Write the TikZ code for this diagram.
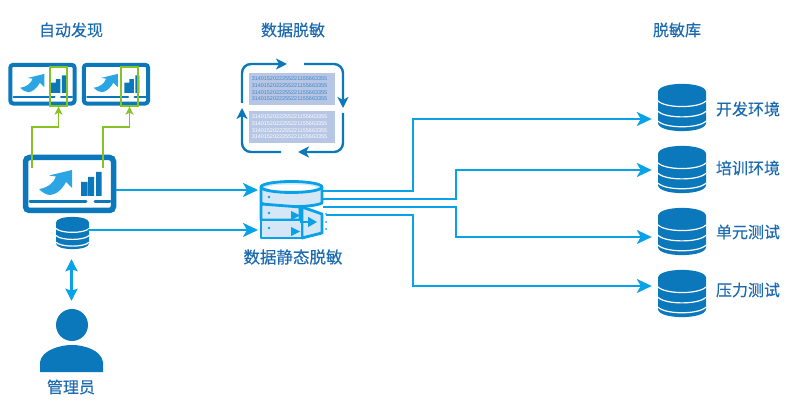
\documentclass[tikz,border=0pt]{standalone}
\usepackage{fontspec}
\setmainfont[FakeBold=0.2]{Noto Sans CJK SC}
\newfontfamily\digitfont{Liberation Sans}
\usetikzlibrary{arrows.meta}
\definecolor{dkblue}{HTML}{0B78BC}
\definecolor{brblue}{HTML}{08A2E8}
\definecolor{swoosh}{HTML}{2BA6E2}
\definecolor{ltblue}{HTML}{D5E7F6}
\definecolor{green1}{HTML}{86C226}
\definecolor{txtblue}{HTML}{1C6BB0}
\definecolor{panelbg}{HTML}{B7C6E4}
\definecolor{digitblue}{HTML}{3F86C8}
\tikzset{
  x=1pt,y=-1pt,
  title/.style={font=\fontsize{16}{18}\selectfont,text=txtblue,inner sep=0pt},
  flow/.style={draw=brblue,line width=2.2pt,-{Stealth[length=15pt,width=14pt,inset=4pt]}},
  greenline/.style={draw=green1,line width=1.6pt,-{Stealth[length=8pt,width=8pt,inset=2pt]}},
  cyc/.style={draw=dkblue,line width=2.4pt,rounded corners=9pt,-{Stealth[length=11pt,width=11pt,inset=3pt]}},
  digits/.style={font=\digitfont\fontsize{5.45}{6}\selectfont,inner sep=0pt},
  hotspot/.style={inner sep=0pt,minimum size=0pt},
}
% x, y, scale
\newcommand{\monitoricon}[3]{%
  \begin{scope}[shift={(#1,#2)},scale=#3]
    \draw[dkblue,fill=white,line width=#3*5.5pt,rounded corners=#3*4pt] (2.5,2.5) rectangle (90.5,55.5);
    \draw[dkblue,line width=#3*3pt,line cap=round] (7,47) -- (63,47) (72,47) -- (87,47);
    \fill[dkblue] (58,27) rectangle (64.5,41) (65,22) rectangle (71,41) (73,17) rectangle (78.5,41);
    \fill[swoosh] (16,34) .. controls (24,33) and (31,28) .. (33,21.5) -- (26,20.5) -- (49,15) -- (49,33)
      -- (43,27) .. controls (39,35) and (32,40) .. (27,40) .. controls (23,40) and (19,37) .. (16,34) -- cycle;
  \end{scope}}
% x-left, y-top, width, height: solid stacked database
\newcommand{\dbicon}[4]{%
  \begin{scope}[shift={(#1,#2)},x=#3*1pt,y=-#4*1pt]
    \fill[dkblue] (0,.17) -- (0,.83) .. controls (0,1.06) and (1,1.06) .. (1,.83) -- (1,.17)
      .. controls (1,-.06) and (0,-.06) .. (0,.17) -- cycle;
    \draw[white,line width=1.2pt] (0,.36) .. controls (.15,.52) and (.85,.52) .. (1,.36);
    \draw[white,line width=1.2pt] (0,.58) .. controls (.15,.74) and (.85,.74) .. (1,.58);
    \draw[white,line width=1.2pt] (0,.79) .. controls (.15,.95) and (.85,.95) .. (1,.79);
  \end{scope}}
\begin{document}
\begin{tikzpicture}
\useasboundingbox (0,0) rectangle (800,411);
\fill[white] (0,0) rectangle (800,411);

% titles
\node[title] (tA) at (71,30) {自动发现};
\node[title] (tB) at (293,30) {数据脱敏};
\node[title] (tC) at (677,30) {脱敏库};

% monitors
\monitoricon{8.5}{63}{0.73}
\monitoricon{82}{63}{0.73}
\monitoricon{23}{155}{1}
\node[hotspot,draw=green1,line width=1.2pt,minimum width=17pt,minimum height=39pt] (g1) at (58.5,86.5) {};
\node[hotspot,draw=green1,line width=1.2pt,minimum width=17pt,minimum height=39pt] (g2) at (129.5,86.5) {};
\node[hotspot,minimum width=93pt,minimum height=58pt] (mon) at (69.5,184) {};
\coordinate (gs1) at (32,168);
\coordinate (gs2) at (103,168);
\coordinate (gm1) at (32,127);
\coordinate (gm2) at (103,127);
\draw[greenline] (gs1) -- (gm1) -- (gm1 -| g1.south) -- (g1.south);
\draw[greenline] (gs2) -- (gm2) -- (gm2 -| g2.south) -- (g2.south);

% small db and admin
\dbicon{56}{217}{33}{32}
\node[hotspot,minimum width=33pt,minimum height=32pt] (sdb) at (71.5,233) {};
\fill[dkblue] (72,325) circle (16);
\fill[dkblue] (40,372) -- (40,362) .. controls (42,350) and (60,345) .. (72,345)
  .. controls (84,345) and (101,350) .. (103,362) -- (103,372) -- cycle;
\node[hotspot,minimum width=63pt,minimum height=64pt] (admin) at (71.5,341) {};
\node[title] (tD) at (71,387) {管理员};
\draw[brblue,line width=2.4pt,shorten <=10pt,shorten >=8pt,{Stealth[length=12pt,width=12pt,inset=2pt]}-{Stealth[length=12pt,width=12pt,inset=2pt]}] (sdb.south) -- (admin.north);

% mask panel
\node[hotspot,fill=panelbg,minimum width=86pt,minimum height=32pt] (p1) at (292,89) {};
\node[hotspot,fill=panelbg,minimum width=86pt,minimum height=32pt] (p2) at (292,127) {};
\foreach \yy in {79,85.6,92.4,99}
  \node[digits,text=digitblue] at (289.5,\yy) {3140152022255221155663355};
\foreach \yy in {117,123.6,130.2,136.8}
  \node[digits,text=white] at (289.5,\yy) {3140152022255221155663355};
\draw[cyc] (242,103) |- (287,64);
\draw[cyc] (304,64) -| (343,108);
\draw[cyc] (343,113) |- (298,152);
\draw[cyc] (281,152) -| (242,108);

% static masking database
\begin{scope}[brblue,line width=2.8pt,line join=round]
  \draw[fill=ltblue] (302,207) -- (322,214) -- (322,233) -- (302,238) -- cycle;
  \draw[fill=ltblue] (261,187) -- (261,203) .. controls (270,208) and (312,208) .. (322,203) -- (322,187) -- cycle;
  \draw[fill=ltblue] (261,204) -- (261,220) -- (300,220) -- (300,207) -- cycle;
  \draw[fill=ltblue] (261,220) -- (261,238) -- (302,238) -- (302,220) -- cycle;
  \draw[fill=ltblue] (291.5,187) ellipse (30.5 and 5.5);
\end{scope}
\fill[white] (291.5,187.5) ellipse (25 and 3);
\fill[brblue] (291,211) -- (300,215.5) -- (291,220) -- cycle (291,227) -- (300,231.5) -- (291,236) -- cycle;
\fill[brblue] (269,197) circle (1.4) (269,213) circle (1.4) (269,228) circle (1.4);
\fill[brblue] (326,214) circle (1) (326,222) circle (1) (326,229) circle (1);
\draw[brblue,line width=1.6pt,-{Stealth[length=9pt,width=10pt,inset=0pt]}] (300,222) -- (317,222);
\node[hotspot,minimum width=63pt,minimum height=57pt] (masker) at (291.5,210) {};
\node[title,font=\fontsize{16.5}{18}\selectfont] (tE) at (293,257) {数据静态脱敏};

% target databases
\dbicon{658}{84}{48}{47}
\dbicon{658}{146}{48}{47}
\dbicon{658}{208}{48}{47}
\dbicon{658}{270}{48}{47}
\node[hotspot,minimum width=54pt,minimum height=47pt] (d1) at (679,119) {};
\node[hotspot,minimum width=54pt,minimum height=47pt] (d2) at (679,170) {};
\node[hotspot,minimum width=54pt,minimum height=47pt] (d3) at (679,237) {};
\node[hotspot,minimum width=54pt,minimum height=47pt] (d4) at (679,286) {};
\node[title] (l1) at (748,109) {开发环境};
\node[title] (l2) at (748,168) {培训环境};
\node[title] (l3) at (748,232) {单元测试};
\node[title] (l4) at (748,290) {压力测试};

% flows
\coordinate (in1) at (258,190);
\coordinate (in2) at (258,230);
\draw[flow] (mon.east |- in1) -- (in1);
\draw[flow] (sdb.east |- in2) -- (in2);
\coordinate (o1) at (323,191);
\coordinate (o2) at (323,199);
\coordinate (o3) at (323,207);
\coordinate (o4) at (326,215);
\coordinate (busA) at (413,200);
\coordinate (busB) at (456,200);
\draw[flow] (o1) -- (o1 -| busA) -- (busA |- d1.west) -- (d1.west);
\draw[flow] (o2) -- (o2 -| busB) -- (busB |- d2.west) -- (d2.west);
\draw[flow] (o3) -- (o3 -| busB) -- (busB |- d3.west) -- (d3.west);
\draw[flow] (o4) -- (o4 -| busA) -- (busA |- d4.west) -- (d4.west);
\end{tikzpicture}
\end{document}
